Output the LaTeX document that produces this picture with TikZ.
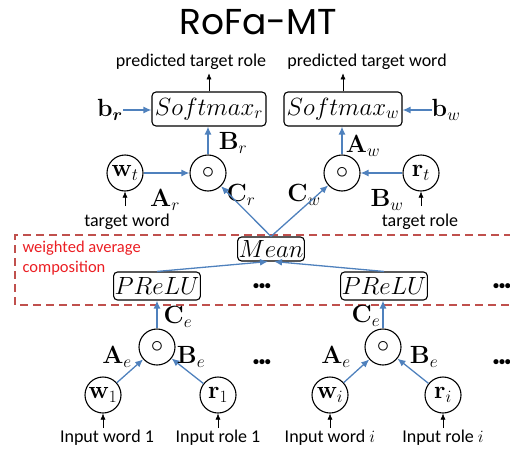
\documentclass[tikz,border=0pt]{standalone}
\usepackage[no-math]{fontspec}
\usepackage{bm}
\setmainfont{Carlito}
\newfontfamily\titlefont{Poppins}
\usetikzlibrary{arrows.meta}
\definecolor{lblue}{RGB}{79,129,189}
\definecolor{dred}{RGB}{192,80,77}
\definecolor{tred}{RGB}{235,30,35}
\begin{document}
\begin{tikzpicture}[x=1pt,y=-1pt,
 circ/.style={draw,circle,line width=1.1pt,minimum size=36pt,inner sep=0pt,font=\fontsize{24}{26}\selectfont},
 opbox/.style={draw,rounded corners=4pt,line width=1.1pt,inner sep=1pt,font=\fontsize{23}{25}\selectfont},
 barr/.style={-{Latex[length=8pt,width=7pt]},lblue,line width=1.3pt},
 karr/.style={-{Latex[length=6pt,width=5pt]},black,line width=0.6pt},
 lab/.style={font=\fontsize{18}{20}\selectfont},
 mlab/.style={font=\fontsize{24}{26}\selectfont,inner sep=0pt},
 dots/.style={font=\fontsize{12}{14}\selectfont\bfseries,inner sep=0pt},
]
\useasboundingbox (0,0) rectangle (510,452);
% title
\node (title) at (258,22) {\titlefont\fontsize{36}{40}\selectfont RoFa-MT};
% dashed region
\draw[dred,dashed,dash pattern=on 8pt off 5pt,line width=1.4pt] (525,235) -- (15,235) -- (15,305) -- (525,305);
\node[tred,anchor=west,align=left,font=\fontsize{16.5}{20}\selectfont] (wac) at (19,258) {weighted average\\composition};
% top outputs
\node[lab] (ptr) at (191,62) {predicted target role};
\node[lab] (ptw) at (367,62) {predicted target word};
\node[opbox,minimum width=114,minimum height=34] (smr) at (209,109) {$Softmax_r$};
\node[opbox,minimum width=118,minimum height=34] (smw) at (343,109) {$Softmax_w$};
\draw[karr] (smr.north) -- (smr.north |- ptr.south);
\draw[karr] (smw.north) -- (smw.north |- ptw.south);
\node[mlab] (br) at (110,110) {$\mathbf{b}_{\bm r}$};
\node[mlab] (bw) at (446,110) {$\mathbf{b}_{w}$};
\draw[barr] (br.east) -- (smr.west |- br.east);
\draw[barr] (bw.west) -- (smw.east |- bw.west);
% second row circles
\node[circ] (wt) at (125,173) {$\mathbf{w}_t$};
\node[circ] (cr) at (208,173) {$\circ$};
\node[circ] (cw) at (342,173) {$\circ$};
\node[circ] (rt) at (421,173) {$\mathbf{r}_t$};
\draw[barr] (wt) -- (cr);
\draw[barr] (rt) -- (cw);
\draw[barr] (cr.north) -- (cr.north |- smr.south);
\draw[barr] (cw.north) -- (cw.north |- smw.south);
\node[mlab] (lbr) at (233,143) {$\mathbf{B}_r$};
\node[mlab] (law) at (363,146) {$\mathbf{A}_w$};
\node[mlab] (lar) at (165,200) {$\mathbf{A}_r$};
\node[mlab] (lcr) at (241,195) {$\mathbf{C}_r$};
\node[mlab] (lcw) at (304,195) {$\mathbf{C}_w$};
\node[mlab] (lbw) at (387,200) {$\mathbf{B}_w$};
\node[lab] (tw) at (127,222) {target word};
\node[lab] (tr) at (420,222) {target role};
\coordinate (twa) at (125,206);
\coordinate (tra) at (421,206);
\draw[karr] (twa) -- (wt.south);
\draw[karr] (tra) -- (rt.south);
% mean
\node[opbox,minimum width=66,minimum height=24] (mean) at (271,249) {$Mean$};
\draw[barr] (mean.north) -- (cr);
\draw[barr] (mean.north) -- (cw);
% prelu
\node[opbox,minimum width=80,minimum height=28] (pl) at (157,286) {$PReLU$};
\node[opbox,minimum width=82,minimum height=28] (pr) at (384,286) {$PReLU$};
\draw[barr] (pl.north) -- ([xshift=-3pt]mean.south);
\draw[barr] (pr.north) -- ([xshift=3pt]mean.south);
\node[dots] (d1) at (262,287) {•••};
\node[dots] (d2) at (502,287) {•••};
% bottom
\node[circ] (ce1) at (157,347) {$\circ$};
\node[circ] (cei) at (383,347) {$\circ$};
\node[circ] (w1) at (103,395) {$\mathbf{w}_1$};
\node[circ] (r1) at (218,395) {$\mathbf{r}_1$};
\node[circ] (wi) at (330,395) {$\mathbf{w}_i$};
\node[circ] (ri) at (443,395) {$\mathbf{r}_i$};
\draw[barr] (w1) -- (ce1);
\draw[barr] (r1) -- (ce1);
\draw[barr] (wi) -- (cei);
\draw[barr] (ri) -- (cei);
\draw[barr] (ce1.north) -- (ce1.north |- pl.south);
\draw[barr] (cei.north) -- (cei.north |- pr.south);
\node[mlab] (lce1) at (178,317) {$\mathbf{C}_e$};
\node[mlab] (lcei) at (366,316) {$\mathbf{C}_e$};
\node[mlab] (lae1) at (117,357) {$\mathbf{A}_e$};
\node[mlab] (lbe1) at (191,357) {$\mathbf{B}_e$};
\node[mlab] (laei) at (336,357) {$\mathbf{A}_e$};
\node[mlab] (lbei) at (424,357) {$\mathbf{B}_e$};
\node[dots] (d3) at (262,363) {•••};
\node[dots] (d4) at (502,363) {•••};
\node[lab] (iw1) at (107,438) {Input word 1};
\node[lab] (ir1) at (218,438) {Input role 1};
\node[lab] (iwi) at (330,438) {Input word $i$};
\node[lab] (iri) at (443,438) {Input role $i$};
\coordinate (a1) at (103,428);
\coordinate (a2) at (218,428);
\coordinate (a3) at (330,428);
\coordinate (a4) at (443,428);
\draw[karr] (a1) -- (w1.south);
\draw[karr] (a2) -- (r1.south);
\draw[karr] (a3) -- (wi.south);
\draw[karr] (a4) -- (ri.south);
\end{tikzpicture}
\end{document}
